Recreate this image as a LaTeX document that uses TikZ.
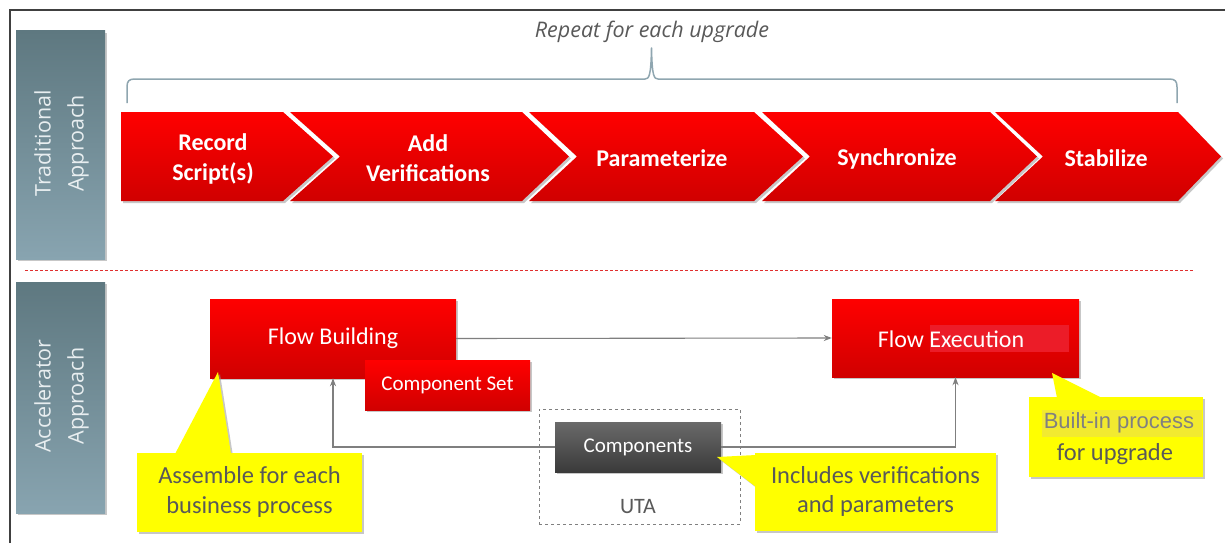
\documentclass[tikz,border=0pt]{standalone}
\usepackage{fontspec}
\setmainfont{Carlito}
\newfontfamily\sidefont{Open Sans}
\newfontfamily\arialf{Liberation Sans}
\usetikzlibrary{shadows,arrows.meta}
\definecolor{redtop}{HTML}{FF0000}
\definecolor{redbot}{HTML}{D00000}
\definecolor{paneltop}{HTML}{5E7880}
\definecolor{panelbot}{HTML}{88A4B0}
\definecolor{paneltext}{HTML}{E8EEF0}
\definecolor{callyellow}{HTML}{FFFF00}
\definecolor{calltext}{HTML}{595959}
\definecolor{bracecol}{HTML}{8FA6B0}
\definecolor{conncol}{HTML}{7F7F7F}
\definecolor{comptop}{HTML}{6A6A6A}
\definecolor{compbot}{HTML}{3A3A3A}
\definecolor{exechl}{HTML}{EC1C28}
\definecolor{builthl}{HTML}{F2EA30}
\definecolor{sepred}{HTML}{E03030}
\tikzset{
  shad/.style={drop shadow={shadow xshift=2pt,shadow yshift=-2pt,fill=black!40,opacity=0.55}},
  panel/.style={rectangle, top color=paneltop, bottom color=panelbot, shad,
    minimum width=89pt, inner sep=0pt},
  paneltxt/.style={rotate=90, text=paneltext, align=center,
    font=\sidefont\fontsize{21.5}{33}\selectfont},
  chev/.style={top color=redtop, bottom color=redbot, shad},
  chevtext/.style={text=white, align=center, font=\bfseries\fontsize{24}{30}\selectfont},
  redbox/.style={rectangle, top color=redtop, bottom color=redbot, shad, inner sep=0pt,
    text=white, font=\fontsize{24}{29}\selectfont},
  compbox/.style={rectangle, top color=comptop, bottom color=compbot, shad, inner sep=0pt,
    text=white, font=\fontsize{21}{26}\selectfont},
  callbox/.style={rectangle, fill=callyellow, shad, inner sep=0pt, align=center,
    text=calltext, font=\fontsize{24.5}{31}\selectfont},
  callptr/.style={fill=callyellow, shad},
  conn/.style={draw=conncol, line width=1.1pt,
    -{Stealth[length=8pt,width=6pt,inset=2.5pt]}},
}
\begin{document}
\begin{tikzpicture}[x=1pt,y=-1pt]
\useasboundingbox (0,0) rectangle (1225,543);
\fill[white] (0,0) rectangle (1225,543);
% frame
\draw[line width=1.3pt, black!75] (10,543) -- (10,10) -- (1225,10);

% side panels
\node[panel, minimum height=228pt] (ptrad) at (60.5,145) {};
\node[paneltxt] (ttrad) at (61.5,143.5) {Traditional\\Approach};
\node[panel, minimum height=231pt] (pacc) at (60.5,397.5) {};
\node[paneltxt] (tacc) at (61.5,396) {Accelerator\\Approach};

% separator
\draw[sepred, line width=1pt, dash pattern=on 3pt off 2pt] (25,270) -- (1193,270);

% brace
\draw[bracecol, line width=1.5pt, line join=round]
  (127,103) -- (127,87) .. controls (127,81) and (129,79) .. (135,79)
  -- (645,79) .. controls (649,79) and (651,76) .. (651.5,48)
  .. controls (652,76) and (654,79) .. (658,79)
  -- (1169,79) .. controls (1175,79) and (1177,81) .. (1177,87) -- (1177,103);
\node[text=calltext, font=\sidefont\itshape\fontsize{21.5}{25}\selectfont] (rep) at (652,31.5) {Repeat for each upgrade};

% chevrons
\path[chev] (995,112) -- (1178,112) -- (1221,156.5) -- (1178,201) -- (995,201) -- (1043,156.5) -- cycle;
\path[chev] (762,112) -- (990,112) -- (1037,156.5) -- (990,201) -- (762,201) -- (810,156.5) -- cycle;
\path[chev] (529,112) -- (754,112) -- (803,156.5) -- (754,201) -- (529,201) -- (577,156.5) -- cycle;
\path[chev] (290,112) -- (522,112) -- (569,156.5) -- (522,201) -- (290,201) -- (340,156.5) -- cycle;
\path[chev] (121,112) -- (283,112) -- (333,156.5) -- (283,201) -- (121,201) -- cycle;
\node[chevtext] (s1) at (213,158.5) {Record\\Script(s)};
\node[chevtext] (s2) at (428,158.5) {Add\\Verifications};
\node[chevtext] (s3) at (662,158.5) {Parameterize};
\node[chevtext] (s4) at (897,158.5) {Synchronize};
\node[chevtext] (s5) at (1106,158.5) {Stabilize};

% lower boxes
\node[draw=black!50, dashed, line width=0.8pt, minimum width=201pt, minimum height=115pt, inner sep=0pt] (uta) at (639.5,466.5) {};
\node[text=calltext, font=\fontsize{22}{26}\selectfont] (utal) at (638,507) {UTA};
\node[redbox, minimum width=246pt, minimum height=79pt] (fb) at (333,338.5) {\raisebox{-1.5pt}{Flow Building}};
\node[redbox, minimum width=165pt, minimum height=50pt, font=\fontsize{21}{26}\selectfont] (cs) at (447.5,385) {Component Set};
\node[redbox, minimum width=247pt, minimum height=78pt] (fe) at (955.5,338) {};
\fill[exechl] (930,325) rectangle (1069,352);
\node[text=white, font=\fontsize{24}{29}\selectfont] (fet) at (951,339.5) {Flow Execution};
\node[compbox, minimum width=166pt, minimum height=50pt] (comp) at (638,447) {Components};

% connectors
\draw[conn] (fb.east) -- (fe.west);
\draw[conn] (comp.west) -| (fb.south);
\draw[conn] (comp.east) -| (fe.south);

% callouts
\path[callptr] (175,454) -- (218,372) -- (231,454) -- cycle;
\node[callbox, minimum width=225pt, minimum height=79pt] (c1) at (249.5,492.5) {\raisebox{-1.5pt}{\begin{tabular}{@{}c@{}}Assemble for each\\[-1.5pt]business process\end{tabular}}};

\path[callptr] (756,455) -- (717,457) -- (756,487) -- cycle;
\node[callbox, minimum width=241pt, minimum height=78pt] (c2) at (875.5,492) {\raisebox{-1.5pt}{\begin{tabular}{@{}c@{}}Includes verifications\\[-1.5pt]and parameters\end{tabular}}};

\path[callptr] (1057,398) -- (1052,373) -- (1102,398) -- cycle;
\node[callbox, minimum width=174pt, minimum height=80pt] (c3) at (1116,437) {};
\fill[builthl] (1042,410) rectangle (1202,437);
\node[text=black!50, font=\arialf\fontsize{22}{26}\selectfont] (c3a) at (1119,423) {Built-in process};
\node[text=calltext, font=\fontsize{24.5}{29}\selectfont] (c3b) at (1115,454) {for upgrade};
\end{tikzpicture}
\end{document}
